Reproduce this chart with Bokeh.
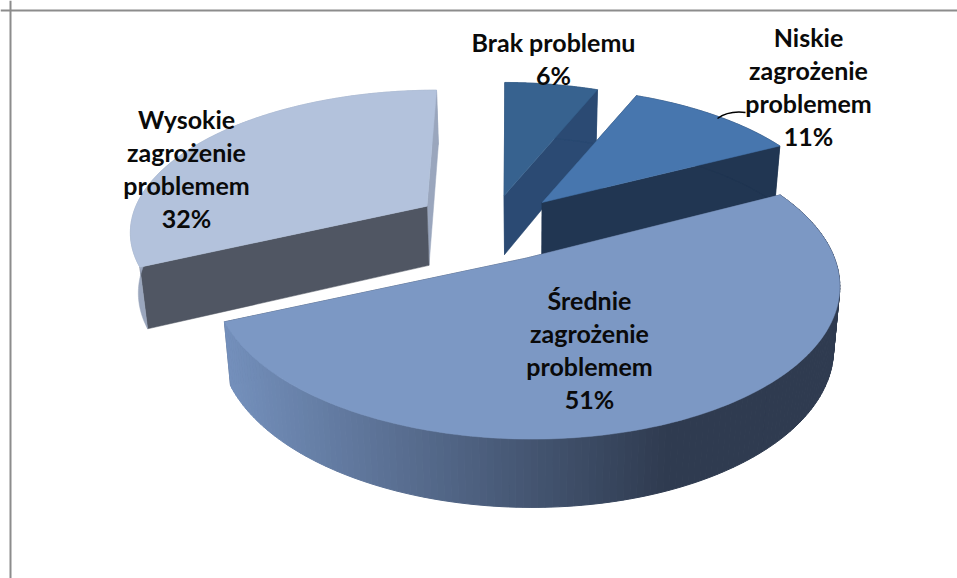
import numpy as np
from bokeh.plotting import figure
from bokeh.core.properties import value
from bokeh.models import Span
from bokeh.embed import file_html
from bokeh.resources import INLINE

categories = ["Brak problemu", "Niskie zagrożenie problemem",
              "Średnie zagrożenie problemem", "Wysokie zagrożenie problemem"]
shares = [6, 11, 51, 32]
label_lines = [["Brak problemu"], ["Niskie", "zagrożenie", "problemem"],
               ["Średnie", "zagrożenie", "problemem"], ["Wysokie", "zagrożenie", "problemem"]]

# style / layout
START = 0.5
ROT = [0.0, 1.2, 1.5, -0.4]
EXPLODE = [0.23, 0.24, 0.24, 0.275]
NUDGE_U = [-0.012, 0.0, 0.0, 0.0]
CX, CY, RX, RY, K, DEPTH = 494.0, 226.0, 298.0, 140.6, 0.16, 60.0
CONVERGE = 0.98
TOP = ["#37628f", "#4776ae", "#7c98c4", "#b3c2dc"]
CUT = ["#2b4a73", "#213652", "#2f3b50", "#505663"]
RIM = ["#2b4a73", "#213652", None, "#9aa6bd"]
LABEL_X = [553, 808, 589, 186]
LABEL_Y = [41, 36, 299, 118]
LINE_H = 33


def project(u, v, drop=False):
    w = 1 / (1 + K * v)
    x = CX + RX * u * w
    y = CY - RY * v * w
    if drop:
        x = CX + 35 + (x - CX - 35) * CONVERGE
        y = y + DEPTH * w ** 0.6
    return x, y


p = figure(width=957, height=578, x_range=(0, 957), y_range=(578, 0),
           output_backend="svg", toolbar_location=None, min_border=0)
p.axis.visible = False
p.grid.visible = False
p.outline_line_color = None
p.background_fill_color = "white"
p.border_fill_color = "white"

p.add_layout(Span(location=10, dimension="height", line_color="#8c8c8c", line_width=2))
p.add_layout(Span(location=10, dimension="width", line_color="#8c8c8c", line_width=2))


def lerp_hex(a, b, t):
    ca = [int(a[i:i + 2], 16) for i in (1, 3, 5)]
    cb = [int(b[i:i + 2], 16) for i in (1, 3, 5)]
    return "#%02x%02x%02x" % tuple(round(x + (y - x) * t) for x, y in zip(ca, cb))


total = sum(shares)
edges = np.radians(START + 360 * np.cumsum([0] + shares) / total)
slices = []
for i, s in enumerate(shares):
    a0, a1 = edges[i] + np.radians(ROT[i]), edges[i + 1] + np.radians(ROT[i])
    mid = (a0 + a1) / 2
    slices.append((i, a0, a1, EXPLODE[i] * np.sin(mid) + NUDGE_U[i], EXPLODE[i] * np.cos(mid)))

for i, a0, a1, ou, ov in [slices[0], slices[3], slices[1], slices[2]]:
    t = np.linspace(a0, a1, 161)
    u, v = ou + np.sin(t), ov + np.cos(t)
    xt, yt = project(u, v)
    xb, yb = project(u, v, True)
    ax, ay = project(np.array([ou]), np.array([ov]))
    bx, by = project(np.array([ou]), np.array([ov]), True)
    # cut faces: the far one first, the near one over it
    order = (-1, 0) if i == 3 else (0, -1)
    for k in order:
        col = RIM[3] if (i == 3 and k == -1) else CUT[i]
        p.patch([ax[0], xt[k], xb[k], bx[0]], [ay[0], yt[k], yb[k], by[0]],
                fill_color=col, line_color=col, line_width=0.5)
    # rim
    if RIM[i] is not None:
        p.patch(np.r_[xt, xb[::-1]], np.r_[yt, yb[::-1]], fill_color=RIM[i], line_color=RIM[i], line_width=0.5)
    else:
        for j in range(len(t) - 1):
            f = float(np.clip((xt[j] - 225) / 445, 0, 1))
            c = lerp_hex("#7490bc", "#2f3b50", f)
            p.patch([xt[j], xt[j + 1], xb[j + 1], xb[j]], [yt[j], yt[j + 1], yb[j + 1], yb[j]],
                    fill_color=c, line_color=c, line_width=1)
    # top
    p.patch(np.r_[ax, xt], np.r_[ay, yt], fill_color=TOP[i], line_color=TOP[i], line_width=0.5)

p.quadratic(x0=[745], y0=[112], x1=[717], y1=[118], cx=[728], cy=[110], line_color="black", line_width=1.5)

for i, lines in enumerate(label_lines):
    full = lines + [f"{shares[i]}%"]
    xs = [LABEL_X[i]] * len(full)
    ys = [LABEL_Y[i] + n * LINE_H for n in range(len(full))]
    p.text(xs, ys, text=full, text_align="center", text_baseline="middle",
           text_font=value("Lato"), text_font_style="bold", text_font_size="25px", text_color="#0a0a0a")

open("out.html", "w").write(file_html(p, INLINE))
